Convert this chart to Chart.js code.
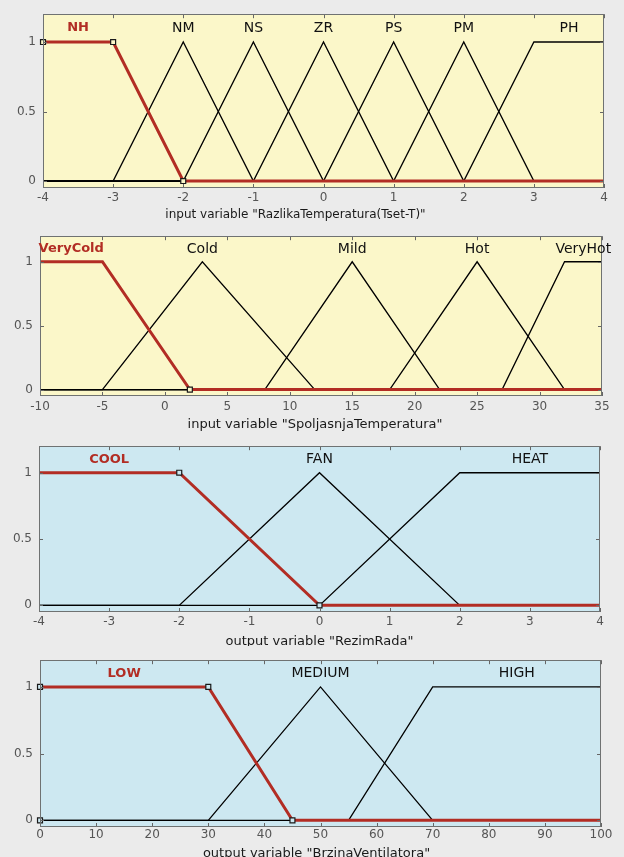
<!DOCTYPE html>
<html>
<head>
<meta charset="utf-8">
<title>Fuzzy membership functions</title>
<script src="https://cdn.jsdelivr.net/npm/chart.js@4.4.0/dist/chart.umd.min.js"></script>
<style>
  html, body { margin: 0; padding: 0; background: #ebebeb; }
  body { width: 624px; height: 857px; position: relative; overflow: hidden; }
  canvas { position: absolute; left: 0; display: block; }
</style>
</head>
<body>
<canvas id="razlika" width="624" height="222" style="top:0px"></canvas>
<canvas id="spoljasnja" width="624" height="210" style="top:222px"></canvas>
<canvas id="rezim" width="624" height="214" style="top:432px"></canvas>
<canvas id="brzina" width="624" height="211" style="top:646px"></canvas>
<script>
// Membership grade ticks shared by every panel
const memberTicks = [0, 0.5, 1];

// Input 1: temperature difference (Tset - T)
const diffNames = ['NH', 'NM', 'NS', 'ZR', 'PS', 'PM', 'PH'];
const diffParams = [[-5, -4, -3, -2], [-3, -2, -1], [-2, -1, 0], [-1, 0, 1], [0, 1, 2], [1, 2, 3], [2, 3, 4, 5]];
const diffTicks = [-4, -3, -2, -1, 0, 1, 2, 3, 4];
const diffMarks = [[-4, 1], [-3, 1], [-2, 0]];

// Input 2: outside temperature
const outNames = ['VeryCold', 'Cold', 'Mild', 'Hot', 'VeryHot'];
const outParams = [[-15, -10, -5, 2], [-5, 3, 12], [8, 15, 22], [18, 25, 32], [27, 32, 35, 40]];
const outTicks = [-10, -5, 0, 5, 10, 15, 20, 25, 30, 35];
const outMarks = [[2, 0]];

// Output 1: operating mode
const modeNames = ['COOL', 'FAN', 'HEAT'];
const modeParams = [[-6, -4, -2, 0], [-2, 0, 2], [0, 2, 4, 6]];
const modeTicks = [-4, -3, -2, -1, 0, 1, 2, 3, 4];
const modeMarks = [[-2, 1], [0, 0]];

// Output 2: fan speed
const fanNames = ['LOW', 'MEDIUM', 'HIGH'];
const fanParams = [[-15, 0, 30, 45], [30, 50, 70], [55, 70, 100, 115]];
const fanTicks = [0, 10, 20, 30, 40, 50, 60, 70, 80, 90, 100];
const fanMarks = [[0, 1], [0, 0], [30, 1], [45, 0]];

const RED = '#b22d24';
const FONT = '"DejaVu Sans", "Liberation Sans", sans-serif';

// Corner points of a triangular (3 params) or trapezoidal (4 params) MF,
// padded with zero-grade points out to the universe edges.
function mfPoints(p, lo, hi) {
  const xs = p.slice();
  const ys = p.length === 3 ? [0, 1, 0] : [0, 1, 1, 0];
  const pts = xs.map((x, i) => ({ x: x, y: ys[i] }));
  if (xs[0] > lo) pts.unshift({ x: lo, y: 0 });
  if (xs[xs.length - 1] < hi) pts.push({ x: hi, y: 0 });
  return pts;
}

// Axes box, inward ticks, MF names and the variable caption
const decor = {
  id: 'decor',
  beforeDraw(chart, args, o) {
    const { ctx, chartArea: a } = chart;
    ctx.save();
    ctx.fillStyle = o.bg;
    ctx.fillRect(a.left, a.top, a.width, a.height);
    ctx.restore();
  },
  afterDraw(chart, args, o) {
    const { ctx, chartArea: a, scales } = chart;
    const xs = scales.x, ys = scales.y;
    ctx.save();
    // tick marks
    ctx.strokeStyle = '#666';
    ctx.lineWidth = 1;
    ctx.beginPath();
    xs.ticks.forEach(t => {
      const px = Math.round(xs.getPixelForValue(t.value)) + 0.5;
      ctx.moveTo(px, a.bottom); ctx.lineTo(px, a.bottom - 4);
      ctx.moveTo(px, a.top); ctx.lineTo(px, a.top + 4);
    });
    ys.ticks.forEach(t => {
      const py = Math.round(ys.getPixelForValue(t.value)) + 0.5;
      ctx.moveTo(a.left, py); ctx.lineTo(a.left + 4, py);
      ctx.moveTo(a.right, py); ctx.lineTo(a.right - 4, py);
    });
    ctx.stroke();
    // box
    ctx.strokeStyle = '#6f7272';
    ctx.strokeRect(Math.round(a.left) + 0.5, Math.round(a.top) + 0.5,
                   Math.round(a.width) - 1, Math.round(a.height) - 1);
    // MF names above each plateau
    ctx.textAlign = 'center';
    ctx.textBaseline = 'middle';
    o.names.forEach((name, i) => {
      const p = o.params[i];
      const cx = (p[1] + p[p.length - 2]) / 2;
      const px = xs.getPixelForValue(cx);
      const py = ys.getPixelForValue(1.1);
      if (i === 0) {
        ctx.font = 'bold 13px ' + FONT;
        ctx.fillStyle = RED;
      } else {
        ctx.font = '14px ' + FONT;
        ctx.fillStyle = '#111';
      }
      ctx.fillText(name, px, py);
    });
    // variable caption
    ctx.font = o.captionSize + 'px ' + FONT;
    ctx.fillStyle = '#1a1a1a';
    ctx.fillText(o.caption, (a.left + a.right) / 2 + o.captionShift, o.captionY);
    ctx.restore();
  }
};

function makePanel(id, cfg) {
  const datasets = [{
    type: 'scatter',
    data: cfg.marks.map(m => ({ x: m[0], y: m[1] })),
    pointStyle: 'rect',
    pointRadius: 3.5,
    pointBackgroundColor: cfg.bg,
    pointBorderColor: '#1a1a1a',
    pointBorderWidth: 1.2,
    showLine: false,
    clip: false
  }];
  cfg.params.forEach((p, i) => {
    datasets.push({
      type: 'line',
      label: cfg.names[i],
      data: mfPoints(p, cfg.min, cfg.max),
      borderColor: i === 0 ? RED : '#000',
      borderWidth: i === 0 ? 3 : 1.3,
      pointRadius: 0,
      tension: 0,
      fill: false
    });
  });
  const tickFont = { family: FONT, size: 12 };
  new Chart(document.getElementById(id), {
    type: 'line',
    data: { datasets },
    options: {
      responsive: false,
      animation: false,
      events: [],
      layout: { padding: { top: cfg.top, right: cfg.right, left: 0, bottom: 0 } },
      plugins: {
        legend: { display: false },
        tooltip: { enabled: false },
        decor: {
          bg: cfg.bg, names: cfg.names, params: cfg.params,
          caption: cfg.caption, captionY: cfg.captionY,
          captionShift: cfg.captionShift, captionSize: cfg.captionSize
        }
      },
      scales: {
        x: {
          type: 'linear', min: cfg.min, max: cfg.max,
          afterBuildTicks: s => { s.ticks = cfg.ticks.map(v => ({ value: v })); },
          afterFit: s => { s.height = cfg.xh; },
          grid: { display: false, drawTicks: false }, border: { display: false },
          ticks: { padding: cfg.tickPad, font: tickFont, color: '#555', maxRotation: 0, autoSkip: false, callback: v => String(v) }
        },
        y: {
          min: -0.05, max: 1.2,
          afterBuildTicks: s => { s.ticks = memberTicks.map(v => ({ value: v })); },
          afterFit: s => { s.width = cfg.left; },
          grid: { display: false, drawTicks: false }, border: { display: false },
          ticks: { padding: 7, font: tickFont, color: '#555', callback: v => String(v) }
        }
      }
    },
    plugins: [decor]
  });
}

const YELLOW = '#fbf7c9';
const BLUE = '#cde8f1';

makePanel('razlika', {
  names: diffNames, params: diffParams, ticks: diffTicks, marks: diffMarks,
  min: -4, max: 4, bg: YELLOW, top: 13, right: 20, left: 43, xh: 34, tickPad: 3,
  caption: 'input variable "RazlikaTemperatura(Tset-T)"', captionY: 215, captionShift: -28, captionSize: 12
});
makePanel('spoljasnja', {
  names: outNames, params: outParams, ticks: outTicks, marks: outMarks,
  min: -10, max: 35, bg: YELLOW, top: 6, right: 22, left: 40, xh: 36, tickPad: 4,
  caption: 'input variable "SpoljasnjaTemperatura"', captionY: 203, captionShift: -6, captionSize: 13
});
makePanel('rezim', {
  names: modeNames, params: modeParams, ticks: modeTicks, marks: modeMarks,
  min: -4, max: 4, bg: BLUE, top: 6, right: 24, left: 39, xh: 34, tickPad: 3,
  caption: 'output variable "RezimRada"', captionY: 210, captionShift: 0, captionSize: 13
});
makePanel('brzina', {
  names: fanNames, params: fanParams, ticks: fanTicks, marks: fanMarks,
  min: 0, max: 100, bg: BLUE, top: 6, right: 23, left: 40, xh: 30, tickPad: 1,
  caption: 'output variable "BrzinaVentilatora"', captionY: 208, captionShift: -4, captionSize: 13
});
</script>
</body>
</html>
